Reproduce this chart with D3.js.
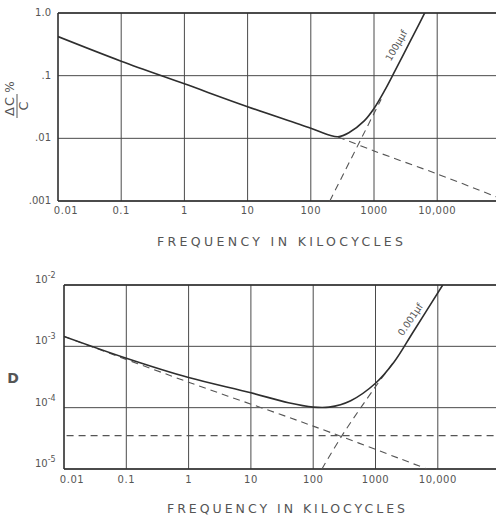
<!DOCTYPE html>
<html><head><meta charset="utf-8">
<script src="https://cdn.jsdelivr.net/npm/d3@7"></script>
<style>
html,body{margin:0;padding:0;background:#fff;overflow:hidden}
text{font-family:"DejaVu Sans",sans-serif;fill:#555}
</style></head>
<body>
<svg id="c" width="496" height="519"></svg>
<script>
// ---- Data ----
const xTicks = [0.01, 0.1, 1, 10, 100, 1000, 10000, 100000];
const xTickLabels = ["0.01", "0.1", "1", "10", "100", "1000", "10,000", ""];

// Top panel: ΔC/C %
const topYTicks = [1, 0.1, 0.01, 0.001];
const topYLabels = ["1.0", ".1", ".01", ".001"];
const topSolid = [[0.01,0.42],[0.1,0.17],[1,0.074],[10,0.032],[100,0.0145],[200,0.0112],[270,0.0106],[400,0.0123],[700,0.019],[1000,0.030],[1500,0.060],[2000,0.104],[3000,0.229],[5000,0.625],[6400,1.02]];
const topDashFall = [[270,0.0105],[1000,0.0063],[10000,0.0027],[100000,0.0011]];
const topDashRise = [[200,0.001],[1000,0.025],[1300,0.042]];
const topCurveLabel = "100μμf";

// Bottom panel: D
const botYTicks = [1e-2, 1e-3, 1e-4, 1e-5];
const botYExp = ["-2", "-3", "-4", "-5"];
const botSolid = [[0.01,1.45e-3],[0.1,6.4e-4],[1,3.1e-4],[10,1.75e-4],[40,1.2e-4],[100,1.02e-4],[180,1.02e-4],[400,1.3e-4],[1000,2.5e-4],[2000,5.6e-4],[4000,1.7e-3],[12000,1e-2]];
const botDashFall = [[0.01,1.45e-3],[1,2.6e-4],[100,5.0e-5],[6700,1e-5]];
const botDashFlat = [[0.011,3.5e-5],[100000,3.5e-5]];
const botDashRise = [[138,1e-5],[290,3.5e-5],[1000,2.2e-4],[1900,5.3e-4]];
const botCurveLabel = "0.001μf";

const xTitle = "FREQUENCY IN KILOCYCLES";

// ---- Drawing ----
const svg = d3.select("#c");
const ink = "#2e2e2e", gridC = "#4a4a4a";

function panel(cfg){
  const x = d3.scaleLog().domain([0.01, 1e5]).range([cfg.left, cfg.left + 7*cfg.dec]);
  const y = d3.scaleLog().domain(cfg.yDomain).range([cfg.bottom, cfg.top]);
  const g = svg.append("g");
  g.selectAll("line.vg").data(xTicks).join("line")
    .attr("x1", d => x(d)).attr("x2", d => x(d))
    .attr("y1", cfg.top).attr("y2", cfg.bottom)
    .attr("stroke", gridC).attr("stroke-width", 1);
  g.selectAll("line.hg").data(cfg.yTicks).join("line")
    .attr("x1", cfg.left).attr("x2", 500)
    .attr("y1", d => y(d)).attr("y2", d => y(d))
    .attr("stroke", gridC).attr("stroke-width", 1);
  g.append("line").attr("x1", cfg.left).attr("x2", cfg.left).attr("y1", cfg.top).attr("y2", cfg.bottom)
    .attr("stroke", ink).attr("stroke-width", 1.3);
  [cfg.top, cfg.bottom].forEach(yy => g.append("line").attr("x1", cfg.left).attr("x2", 500)
    .attr("y1", yy).attr("y2", yy).attr("stroke", ink).attr("stroke-width", 1.3));

  const line = d3.line().x(d => x(d[0])).y(d => y(d[1])).curve(d3.curveCatmullRom.alpha(0.5));
  const clipId = "clip" + cfg.id;
  svg.append("clipPath").attr("id", clipId).append("rect")
    .attr("x", cfg.left).attr("y", cfg.top).attr("width", 500).attr("height", cfg.bottom - cfg.top);
  const cg = g.append("g").attr("clip-path", `url(#${clipId})`);
  cfg.dashed.forEach(ds => cg.append("path").datum(ds).attr("d", line)
    .attr("fill", "none").attr("stroke", "#555").attr("stroke-width", 1.1).attr("stroke-dasharray", "7,5"));
  cg.append("path").datum(cfg.solid).attr("d", line)
    .attr("fill", "none").attr("stroke", ink).attr("stroke-width", 1.6);

  g.selectAll("text.xt").data(xTicks).join("text")
    .attr("x", (d,i) => x(d) + (i === 0 ? 8 : 0)).attr("y", cfg.xLabelY)
    .attr("text-anchor", "middle").attr("dominant-baseline", "middle")
    .attr("font-size", 10).attr("letter-spacing", 0.5)
    .text((d,i) => xTickLabels[i]);
  g.append("text").attr("x", cfg.titleX).attr("y", cfg.titleY)
    .attr("text-anchor", "middle").attr("dominant-baseline", "middle")
    .attr("font-size", 12.5).attr("textLength", cfg.titleW).attr("lengthAdjust", "spacing")
    .text(xTitle);
  const p = cfg.labelPos;
  g.append("text").attr("transform", `translate(${p[0]},${p[1]}) rotate(${p[2]})`)
    .attr("text-anchor", "middle").attr("dominant-baseline", "middle")
    .attr("font-size", 9.5).attr("fill", "#444").text(cfg.label);
  return {x, y, g};
}

const T = panel({id:"t", left:58, dec:63.2, top:13, bottom:201, yDomain:[0.001,1], yTicks:topYTicks,
  solid: topSolid, dashed:[topDashFall, topDashRise], xLabelY:211, titleX:280, titleY:242, titleW:246,
  label: topCurveLabel, labelPos:[397,46,-60]});
T.g.selectAll("text.yt").data(topYTicks).join("text")
  .attr("x", 51).attr("y", d => T.y(d)).attr("text-anchor", "end").attr("dominant-baseline", "middle")
  .attr("font-size", 10).text((d,i) => topYLabels[i]);

const B = panel({id:"b", left:64, dec:62.3, top:285, bottom:469, yDomain:[1e-5,1e-2], yTicks:botYTicks,
  solid: botSolid, dashed:[botDashFall, botDashFlat, botDashRise], xLabelY:480, titleX:286, titleY:509, titleW:238,
  label: botCurveLabel, labelPos:[411,320,-56]});
const yl = B.g.selectAll("text.yt").data(botYTicks).join("text")
  .attr("x", 35).attr("y", d => B.y(d) - 5).attr("dominant-baseline", "middle").attr("font-size", 10);
yl.append("tspan").text("10");
yl.append("tspan").attr("dy", -5).attr("font-size", 8).text((d,i) => botYExp[i]);

svg.append("text").attr("x", 13).attr("y", 379).attr("text-anchor", "middle").attr("dominant-baseline", "middle")
  .attr("font-size", 14).attr("font-weight", "bold").attr("fill", "#3a3a3a").text("D");
const yt = svg.append("g").attr("transform", "translate(17,106) rotate(-90)");
yt.append("text").attr("x", 0).attr("y", -3).attr("text-anchor", "middle").attr("font-size", 13).attr("letter-spacing", 1).text("ΔC");
yt.append("line").attr("x1", -12).attr("x2", 12).attr("y1", 0).attr("y2", 0).attr("stroke", "#555").attr("stroke-width", 1);
yt.append("text").attr("x", 0).attr("y", 11).attr("text-anchor", "middle").attr("font-size", 13).text("C");
yt.append("text").attr("x", 19).attr("y", -3).attr("text-anchor", "middle").attr("font-size", 12).text("%");
</script>
</body></html>
